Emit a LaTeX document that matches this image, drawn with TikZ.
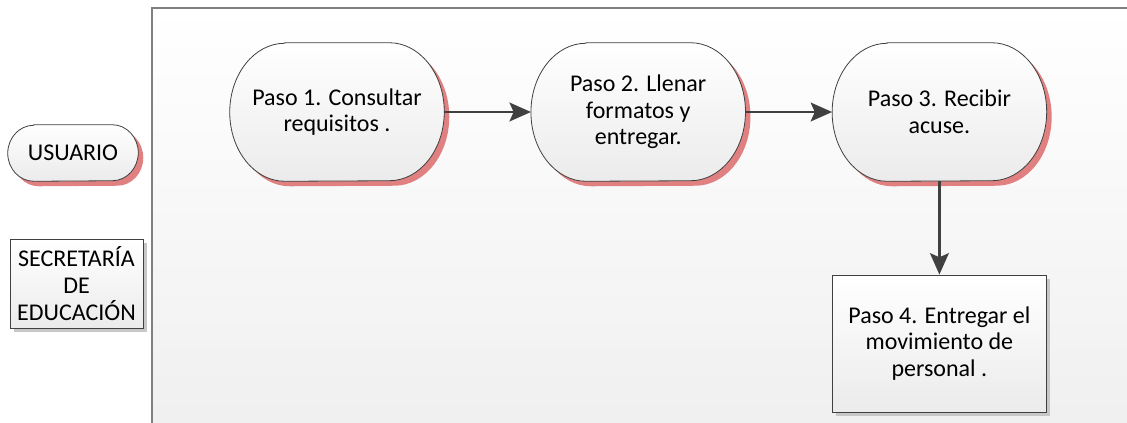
\documentclass[tikz,border=0pt]{standalone}
\usepackage{fontspec}
\setmainfont{Carlito}
\usetikzlibrary{positioning,arrows.meta,backgrounds,shadows}
\definecolor{shadowred}{RGB}{224,128,128}
\definecolor{linegray}{RGB}{64,64,64}
\definecolor{framegray}{RGB}{128,128,128}
\definecolor{fillgray}{RGB}{235,235,235}
\definecolor{bggray}{RGB}{239,239,239}

% stadium outline: node, end width, half height, dx, dy
\newcommand{\stadiumpath}[5]{%
  ([shift={(#4+#2,#5)}]#1.north west) -- ([shift={(#4-#2,#5)}]#1.north east)
  arc[start angle=90, end angle=-90, x radius=#2, y radius=#3]
  -- ([shift={(#4+#2,#5)}]#1.south west)
  arc[start angle=270, end angle=90, x radius=#2, y radius=#3] -- cycle}
\newcommand{\stadiumbg}[3]{%
  \fill[shadowred] \stadiumpath{#1}{#2}{#3}{5}{-5};
  \draw[stadiumline] \stadiumpath{#1}{#2}{#3}{0}{0};}

\begin{document}
\begin{tikzpicture}[x=0.75pt, y=0.75pt,
every node/.style={font=\fontsize{18pt}{20pt}\selectfont, align=center, inner sep=0pt},
stepnode/.style={minimum width=160.5pt, minimum height=103.5pt},
stadiumline/.style={draw=linegray, line width=0.6pt, top color=white, bottom color=fillgray},
boxnode/.style={draw=linegray, line width=0.7pt, top color=white, bottom color=fillgray,
  drop shadow={shadow xshift=3pt, shadow yshift=-3pt, fill=black!22, opacity=1}},
flowarrow/.style={draw=linegray, line width=2.2pt, -{Stealth[length=16pt, width=14pt, inset=3pt]}},
]
\useasboundingbox (0,0) rectangle (1127,-422);
%Nodes
\node[boxnode, minimum width=99.75pt, minimum height=66.75pt] (secretaria) at (76.5,-283.5) {SECRETARÍA\\DE\\EDUCACIÓN};
\node[minimum width=97.5pt, minimum height=42pt] (usuario) at (73,-153) {USUARIO};
\node[stepnode] (paso1) at (337,-112) {Paso 1. Consultar\\requisitos .};
\node[stepnode] (paso2) [right=65pt of paso1] {Paso 2. Llenar\\formatos y\\entregar.};
\node[stepnode] (paso3) [right=65pt of paso2] {Paso 3. Recibir\\acuse.};
\node[boxnode, stepnode, minimum height=102.75pt] (paso4) [below=70pt of paso3] {Paso 4. Entregar el\\movimiento de\\personal .};
%Shapes
\begin{scope}[on background layer]
  \draw[framegray, line width=1pt, top color=white, bottom color=bggray] (152,-8) rectangle (1150,-445);
  \stadiumbg{usuario}{26}{28}
  \stadiumbg{paso1}{55}{69}
  \stadiumbg{paso2}{55}{69}
  \stadiumbg{paso3}{55}{69}
\end{scope}
%Lines
\draw[flowarrow] (paso1.east) -- (paso2.west);
\draw[flowarrow] (paso2.east) -- (paso3.west);
\draw[flowarrow] (paso3.south) -- (paso4.north);
\end{tikzpicture}
\end{document}
